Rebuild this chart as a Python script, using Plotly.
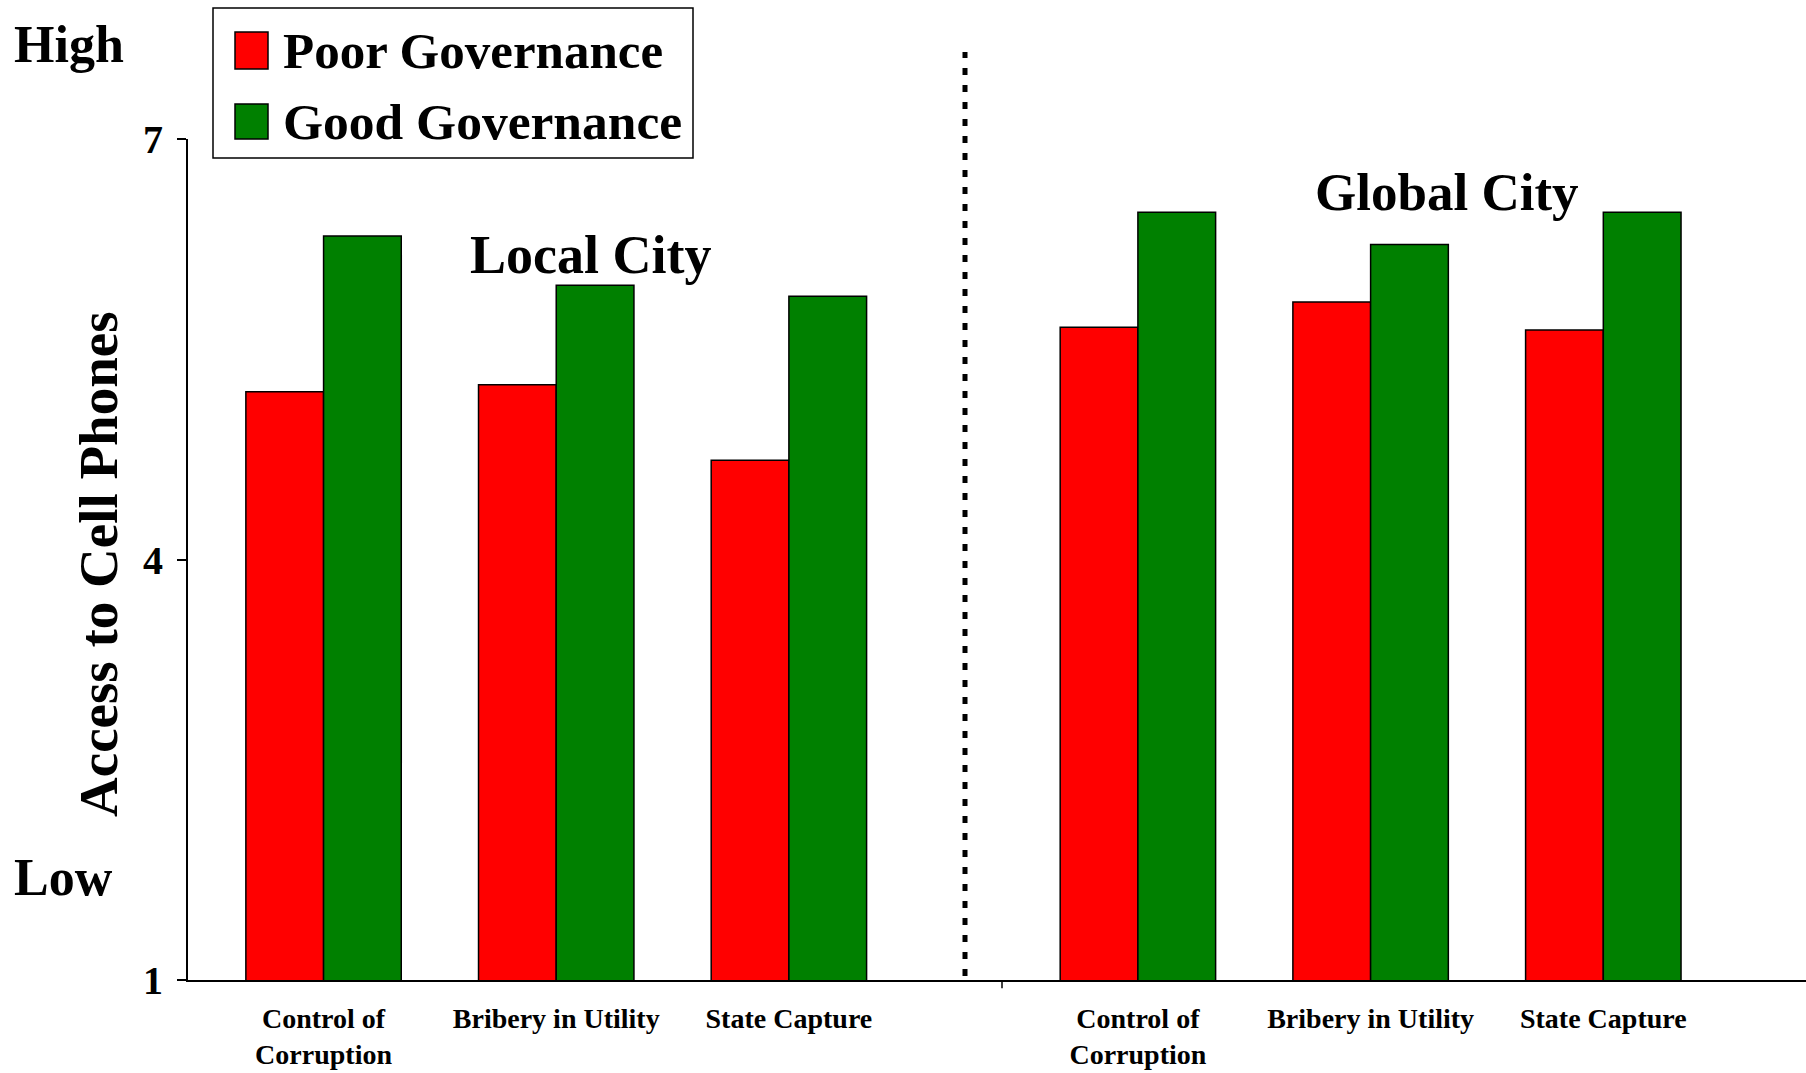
import plotly.graph_objects as go

W, H = 1806, 1073

categories = ["Control of<br>Corruption", "Bribery in Utility", "State Capture"]
series_names = ["Poor Governance", "Good Governance"]
local_poor = [5.20, 5.25, 4.71]
local_good = [6.31, 5.96, 5.88]
global_poor = [5.66, 5.84, 5.64]
global_good = [6.48, 6.25, 6.48]
y_ticks = [1, 4, 7]
colors = ["#FF0000", "#008000"]

FONT = "Liberation Serif, Times New Roman, serif"


def px(x):
    return x / W


def py(y):
    return 1 - y / H


fig = go.Figure()
for name, color, vals in zip(series_names, colors, [local_poor, local_good]):
    fig.add_trace(go.Bar(x=categories, y=vals, name=name, marker=dict(color=color, line=dict(color="black", width=1.5)),
                         xaxis="x", yaxis="y", showlegend=False))
for name, color, vals in zip(series_names, colors, [global_poor, global_good]):
    fig.add_trace(go.Bar(x=categories, y=vals, name=name, marker=dict(color=color, line=dict(color="black", width=1.5)),
                         xaxis="x2", yaxis="y2", showlegend=False))

plot_left, plot_mid = 187.7, 1002.0
plot_top, plot_bot = 139.4, 980.2
tickfont = dict(family=FONT, size=28, color="black", weight="bold")

fig.update_layout(
    width=W, height=H,
    margin=dict(l=0, r=0, t=0, b=0, autoexpand=False),
    paper_bgcolor="white", plot_bgcolor="white",
    barmode="group", bargap=0.332, bargroupgap=0,
    showlegend=False,
    xaxis=dict(domain=[px(plot_left), px(plot_mid)], anchor="y", type="category",
               categoryorder="array", categoryarray=categories, automargin=False,
               range=[-0.584, 2.916], showline=True, linecolor="black", linewidth=2,
               ticks="", showgrid=False, zeroline=False, tickfont=tickfont, ticklabelstandoff=12),
    xaxis2=dict(domain=[px(plot_mid), 1], anchor="y2", type="category",
                categoryorder="array", categoryarray=categories, automargin=False,
                range=[-0.584, 2.871], showline=True, linecolor="black", linewidth=2,
                ticks="", showgrid=False, zeroline=False, tickfont=tickfont, ticklabelstandoff=12),
    yaxis=dict(domain=[py(plot_bot), py(plot_top)], anchor="x", range=[1, 7], automargin=False,
               tickvals=y_ticks, ticktext=[str(v) for v in y_ticks],
               ticks="outside", ticklen=9, tickcolor="black", tickwidth=1.5,
               showline=True, linecolor="black", linewidth=1.5, showgrid=False, zeroline=False,
               tickfont=dict(family=FONT, size=40, color="black", weight="bold"), ticklabelstandoff=6),
    yaxis2=dict(domain=[py(plot_bot), py(plot_top)], anchor="x2", range=[1, 7], automargin=False,
                visible=False, showgrid=False, zeroline=False),
)

shapes = [
    # dotted separator
    dict(type="line", xref="paper", yref="paper", x0=px(965), x1=px(965), y0=py(976), y1=py(52),
         line=dict(color="black", width=5, dash="7px,10px")),
    # small tick at start of the global axis
    dict(type="line", xref="paper", yref="paper", x0=px(plot_mid), x1=px(plot_mid), y0=py(plot_bot), y1=py(plot_bot + 8),
         line=dict(color="black", width=1.5)),
    # legend box
    dict(type="rect", xref="paper", yref="paper", x0=px(213), x1=px(693), y0=py(158), y1=py(8),
         line=dict(color="black", width=1.5), fillcolor="white", layer="below"),
    dict(type="rect", xref="paper", yref="paper", x0=px(235), x1=px(268), y0=py(69), y1=py(32),
         line=dict(color="black", width=1.5), fillcolor=colors[0]),
    dict(type="rect", xref="paper", yref="paper", x0=px(235), x1=px(268), y0=py(139), y1=py(104),
         line=dict(color="black", width=1.5), fillcolor=colors[1]),
]
fig.update_layout(shapes=shapes)


def txt(text, x, y, size, xanchor="left", angle=0):
    return dict(text=text, xref="paper", yref="paper", x=px(x), y=py(y), xanchor=xanchor, yanchor="middle",
                showarrow=False, textangle=angle,
                font=dict(family=FONT, size=size, color="black", weight="bold"))


annotations = [
    txt("High", 12, 44, 52),
    txt("Low", 12, 877, 52),
    txt(series_names[0], 281, 51, 51),
    txt(series_names[1], 281, 122, 51.5),
    txt("Local City", 468, 255, 54),
    txt("Global City", 1313, 192, 53),
    txt("Access to Cell Phones", 98, 564, 55, xanchor="center", angle=-90),
]
fig.update_layout(annotations=annotations)

fig.write_html("out.html", config={"displayModeBar": False},
               post_script="document.body.style.margin='0px';")
